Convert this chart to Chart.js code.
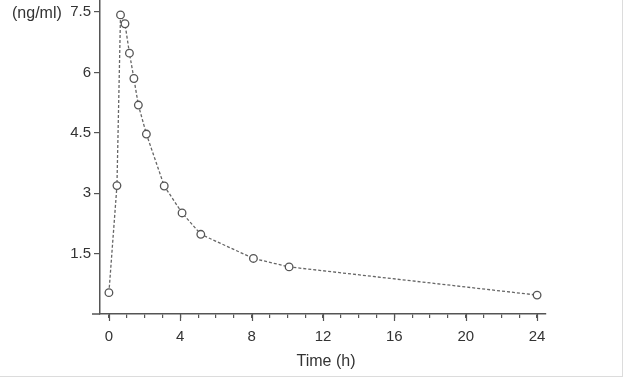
<!DOCTYPE html>
<html>
<head>
<meta charset="utf-8">
<script src="https://cdn.jsdelivr.net/npm/chart.js@4.4.1/dist/chart.umd.min.js"></script>
<style>
  html, body { margin: 0; padding: 0; background: #fff; }
  #wrap { width: 622px; height: 376px; border-right: 1px solid #dcdcdc; border-bottom: 1px solid #dcdcdc; }
</style>
</head>
<body>
<div id="wrap"><canvas id="pkChart" width="622" height="376"></canvas></div>
<script>
"use strict";
// plasma concentration vs time
var timeHours = [0, 0.45, 0.65, 0.9, 1.15, 1.4, 1.65, 2.1, 3.1, 4.1, 5.15, 8.1, 10.1, 24];
var concNgMl  = [0.53, 3.19, 7.43, 7.21, 6.48, 5.85, 5.19, 4.47, 3.18, 2.51, 1.98, 1.38, 1.17, 0.47];
var xLabelTicks = [0, 4, 8, 12, 16, 20, 24];
var xMinorTicks = [0, 1, 2, 3, 4, 5, 6, 7, 8, 9, 10, 11, 12, 13, 14, 15, 16, 17, 18, 19, 20, 21, 22, 23, 24];
var yTicks = [1.5, 3, 4.5, 6, 7.5];
var xTitle = "Time (h)";
var yUnit = "(ng/ml)";

var FONT = "'Liberation Sans', Arial, sans-serif";
var AXIS = "#555";
var TEXT = "#333";

Chart.defaults.font.family = FONT;
Chart.defaults.font.size = 15;
Chart.defaults.color = TEXT;

// longer marks for labelled x ticks, x axis stub left of the y axis, axis titles
var extras = {
  id: 'extras',
  afterDraw: function(chart) {
    var ctx = chart.ctx;
    var xs = chart.scales.x;
    var area = chart.chartArea;
    ctx.save();
    ctx.strokeStyle = AXIS;
    ctx.lineWidth = 1.2;
    xLabelTicks.forEach(function(v) {
      var px = Math.round(xs.getPixelForValue(v)) + 0.5;
      ctx.beginPath();
      ctx.moveTo(px, area.bottom);
      ctx.lineTo(px, area.bottom + 7);
      ctx.stroke();
    });
    ctx.lineWidth = 1.5;
    ctx.beginPath();
    ctx.moveTo(area.left - 8, area.bottom);
    ctx.lineTo(area.left, area.bottom);
    ctx.stroke();
    ctx.fillStyle = TEXT;
    ctx.font = "16px " + FONT;
    ctx.textBaseline = 'alphabetic';
    ctx.textAlign = 'left';
    ctx.fillText(yUnit, 12, 18);
    ctx.textAlign = 'center';
    ctx.fillText(xTitle, 326, 366);
    ctx.restore();
  }
};

new Chart(document.getElementById('pkChart').getContext('2d'), {
  type: 'line',
  data: {
    datasets: [{
      data: timeHours.map(function(t, i) { return { x: t, y: concNgMl[i] }; }),
      borderColor: '#666',
      borderWidth: 1.3,
      borderDash: [3, 2],
      pointRadius: 3.8,
      pointBorderWidth: 1.3,
      pointBorderColor: '#555',
      pointBackgroundColor: '#fff',
      tension: 0,
      clip: false
    }]
  },
  options: {
    responsive: false,
    animation: false,
    devicePixelRatio: 1,
    layout: { autoPadding: false, padding: { left: 0, right: 76, top: 0, bottom: 0 } },
    plugins: { legend: { display: false }, tooltip: { enabled: false } },
    scales: {
      x: {
        type: 'linear',
        min: -0.5,
        max: 24.5,
        afterBuildTicks: function(s) { s.ticks = xMinorTicks.map(function(v) { return { value: v }; }); },
        afterFit: function(s) { s.height = 62; s.paddingLeft = 0; s.paddingRight = 0; },
        border: { color: AXIS, width: 1.5 },
        grid: { display: true, drawOnChartArea: false, drawTicks: true, tickLength: 4, color: AXIS, lineWidth: 1.2 },
        ticks: {
          autoSkip: false,
          maxRotation: 0,
          padding: 10,
          callback: function(v) { return xLabelTicks.indexOf(v) >= 0 ? String(v) : ''; }
        }
      },
      y: {
        position: 'left',
        min: 0,
        max: 7.8,
        afterBuildTicks: function(s) { s.ticks = yTicks.map(function(v) { return { value: v }; }); },
        afterFit: function(s) { s.width = 100; s.paddingTop = 0; s.paddingBottom = 0; },
        border: { color: AXIS, width: 1.5 },
        grid: { display: true, drawOnChartArea: false, drawTicks: true, tickLength: 6, color: AXIS, lineWidth: 1.2 },
        ticks: { padding: 3 }
      }
    }
  },
  plugins: [extras]
});
</script>
</body>
</html>
